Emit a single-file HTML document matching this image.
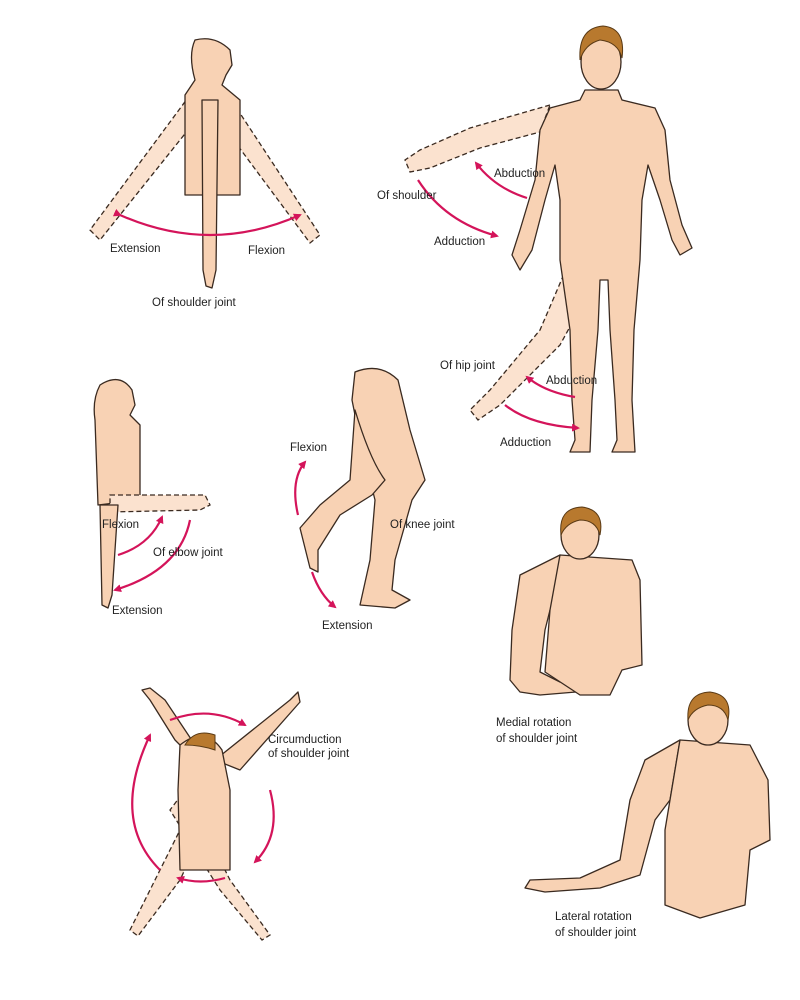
<!DOCTYPE html>
<html><head><meta charset="utf-8"><style>
html,body{margin:0;padding:0;background:#fff;width:800px;height:1000px;overflow:hidden}
svg{display:block}
text{font-family:"Liberation Sans",sans-serif;font-size:11.5px;fill:#222}
.s{fill:#f8d2b4;stroke:#3a2a20;stroke-width:1.3;stroke-linejoin:round}
.d{fill:#fbe2cf;stroke:#3a2a20;stroke-width:1.3;stroke-dasharray:5,3}
.h{fill:#b8792e;stroke:#5a3a15;stroke-width:1}
.a{fill:none;stroke:#d4145a;stroke-width:2.2}
</style></head><body>
<svg width="800" height="1000" viewBox="0 0 800 1000">
<defs><marker id="m" markerWidth="8" markerHeight="8" refX="6" refY="4" orient="auto" markerUnits="userSpaceOnUse"><path d="M0,0 L8,4 L0,8 Z" fill="#d4145a"/></marker></defs>

<!-- Fig1 -->
<path class="d" d="M190,95 L90,230 L100,240 L200,115 Z"/>
<path class="d" d="M228,95 L320,235 L310,243 L215,115 Z"/>
<path class="s" d="M195,40 Q215,35 230,50 L232,65 L226,75 L222,85 L240,100 L240,195 L185,195 L185,95 L195,80 Q188,55 195,40 Z"/>
<path class="s" d="M202,100 L218,100 L216,270 L212,288 L206,286 L203,270 Z"/>
<path class="a" d="M120,215 Q210,255 300,215" marker-start="url(#m)" marker-end="url(#m)"/>
<text x="110" y="252">Extension</text><text x="248" y="254">Flexion</text><text x="152" y="306">Of shoulder joint</text>

<!-- Fig2 -->
<path class="d" d="M550,105 L470,128 L420,150 L405,160 L410,172 L430,168 L480,148 L540,132 Z"/>
<path class="d" d="M570,260 L540,330 L490,390 L470,410 L478,420 L500,405 L560,345 L590,290 Z"/>
<path class="s" d="M585,90 L580,100 L550,108 L540,130 L535,180 L520,230 L512,255 L520,270 L532,250 L545,200 L555,165 L560,200 L560,260 L570,330 L572,400 L575,440 L570,452 L590,452 L592,400 L598,330 L600,280 L608,280 L610,330 L615,400 L617,440 L612,452 L635,452 L632,400 L634,330 L640,260 L642,200 L648,165 L660,200 L672,240 L680,255 L692,248 L682,225 L670,180 L665,130 L655,108 L622,100 L618,90 Z"/>
<ellipse class="s" cx="601" cy="62" rx="20" ry="27"/>
<path class="h" d="M580,60 Q578,28 603,26 Q626,28 622,58 Q618,42 600,40 Q585,44 580,60 Z"/>
<path class="a" d="M527,198 Q495,188 476,163" marker-end="url(#m)"/>
<path class="a" d="M418,180 Q445,222 497,236" marker-end="url(#m)"/>
<path class="a" d="M575,397 Q545,392 527,377" marker-end="url(#m)"/>
<path class="a" d="M505,405 Q530,425 578,428" marker-end="url(#m)"/>
<text x="494" y="177">Abduction</text><text x="377" y="199">Of shoulder</text><text x="434" y="245">Adduction</text>
<text x="440" y="369">Of hip joint</text><text x="546" y="384">Abduction</text><text x="500" y="446">Adduction</text>

<!-- Fig3 -->
<path class="s" d="M100,385 Q120,372 132,390 L135,405 L130,415 L140,425 L140,500 L98,505 L95,420 Q92,400 100,385 Z"/>
<path class="d" d="M110,495 L205,495 L210,505 L200,510 L110,512 Z"/>
<path class="s" d="M100,505 L118,505 L112,595 L108,608 L102,605 Z"/>
<path class="a" d="M118,555 Q150,545 162,517" marker-end="url(#m)"/>
<path class="a" d="M190,520 Q180,570 115,590" marker-end="url(#m)"/>
<text x="102" y="528">Flexion</text><text x="153" y="556">Of elbow joint</text><text x="112" y="614">Extension</text>

<!-- Fig4 -->
<path class="s" d="M355,372 Q380,362 398,380 L410,430 L425,480 L412,500 L395,560 L392,590 L410,600 L395,608 L360,605 L370,560 L375,500 L360,440 L352,400 Z"/>
<path class="s" d="M355,410 Q370,460 385,480 L372,495 L340,515 L318,550 L318,572 L310,568 L300,528 L320,505 L350,480 Z"/>
<path class="a" d="M298,515 Q290,480 305,462" marker-end="url(#m)"/>
<path class="a" d="M312,572 Q320,595 335,607" marker-end="url(#m)"/>
<text x="290" y="451">Flexion</text><text x="390" y="528">Of knee joint</text><text x="322" y="629">Extension</text>

<!-- Fig5 -->
<path class="s" d="M560,555 L520,575 L512,630 L510,680 L520,692 L540,695 L600,690 L605,680 L560,682 L540,672 L545,630 L550,610 L580,560 Z"/>
<path class="s" d="M560,555 L632,560 L640,580 L642,665 L622,670 L610,695 L580,695 L545,672 L550,610 Z"/>
<ellipse class="s" cx="580" cy="535" rx="19" ry="24"/>
<path class="h" d="M561,535 Q558,508 582,507 Q605,510 600,535 Q596,520 580,520 Q566,523 561,535 Z"/>
<text x="496" y="726">Medial rotation</text><text x="496" y="742">of shoulder joint</text>

<!-- Fig6 -->
<path class="d" d="M185,790 L230,880 L270,935 L262,940 L220,890 L170,810 Z"/>
<path class="d" d="M200,790 L160,870 L130,930 L138,936 L180,880 L215,805 Z"/>
<path class="s" d="M175,740 L150,700 L142,690 L150,688 L165,700 L195,745 L195,760 Z"/>
<path class="s" d="M215,760 L290,700 L298,692 L300,702 L240,770 Z"/>
<path class="s" d="M180,745 Q205,725 222,750 L230,790 L230,870 L180,870 L178,790 Z"/>
<path class="h" d="M185,745 Q195,728 215,735 L215,750 Q200,745 185,745 Z"/>
<path class="a" d="M170,720 Q210,705 245,725" marker-end="url(#m)"/>
<path class="a" d="M270,790 Q282,835 255,862" marker-end="url(#m)"/>
<path class="a" d="M225,878 Q200,885 178,878" marker-end="url(#m)"/>
<path class="a" d="M160,870 Q110,820 150,735" marker-end="url(#m)"/>
<text x="268" y="743">Circumduction</text><text x="268" y="757">of shoulder joint</text>

<!-- Fig7 -->
<path class="s" d="M680,740 L645,760 L630,800 L620,860 L580,878 L530,880 L525,888 L545,892 L600,888 L640,875 L655,820 L670,800 Z"/>
<path class="s" d="M680,740 L750,745 L768,780 L770,840 L750,850 L745,905 L700,918 L665,905 L665,830 L670,800 Z"/>
<ellipse class="s" cx="708" cy="720" rx="20" ry="25"/>
<path class="h" d="M688,720 Q686,693 710,692 Q733,695 728,720 Q724,705 708,705 Q693,708 688,720 Z"/>
<text x="555" y="920">Lateral rotation</text><text x="555" y="936">of shoulder joint</text>
</svg>
</body></html>
